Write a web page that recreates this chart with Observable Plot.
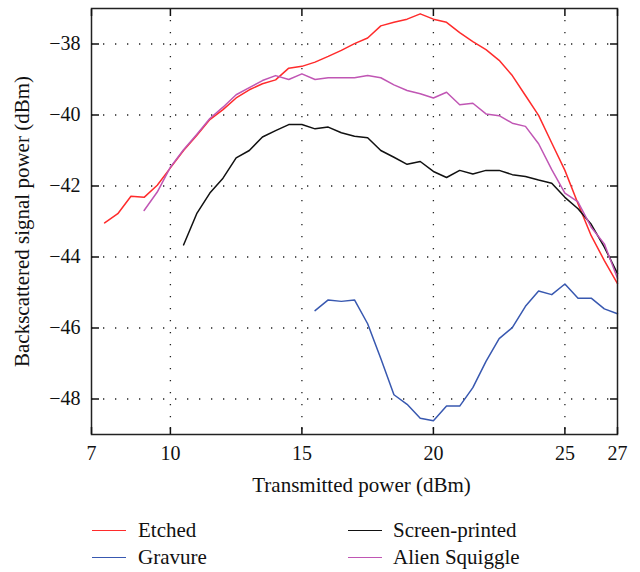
<!DOCTYPE html>
<html><head><meta charset="utf-8">
<script src="https://cdn.jsdelivr.net/npm/d3@7"></script>
<script src="https://cdn.jsdelivr.net/npm/@observablehq/plot@0.6"></script>
<style>
body{margin:0;background:#fff;font-family:"Liberation Serif",serif;}
#legend{position:relative;width:640px;height:72px;font-size:21px;color:#111;}
.item{position:absolute;display:flex;align-items:center;line-height:24px;height:24px;}
.sw{width:34px;height:0;border-top:1.6px solid;}
</style></head><body><div id="chart"></div><div id="legend"></div>
<script>
const seriesNames = ["Etched", "Gravure", "Screen-printed", "Alien Squiggle"];
const seriesColors = ["#ff2b2b", "#3858b0", "#111111", "#c056b4"];
const xTicks = [7, 10, 15, 20, 25, 27];
const yTicks = [-38, -40, -42, -44, -46, -48];

const etchedX = [7.5,8,8.5,9,9.5,10,10.5,11,11.5,12,12.5,13,13.5,14,14.5,15,15.5,16,16.5,17,17.5,18,18.5,19,19.5,20,20.5,21,21.5,22,22.5,23,23.5,24,24.5,25,25.5,26,26.5,27];
const etchedY = [-43.04,-42.78,-42.29,-42.32,-41.98,-41.49,-41.0,-40.58,-40.13,-39.85,-39.52,-39.29,-39.12,-39.01,-38.68,-38.63,-38.51,-38.35,-38.18,-37.99,-37.83,-37.49,-37.39,-37.30,-37.15,-37.30,-37.39,-37.68,-37.93,-38.16,-38.46,-38.89,-39.45,-40.01,-40.79,-41.56,-42.5,-43.4,-44.1,-44.75];

const screenX = [10.5,11,11.5,12,12.5,13,13.5,14,14.5,15,15.5,16,16.5,17,17.5,18,18.5,19,19.5,20,20.5,21,21.5,22,22.5,23,23.5,24,24.5,25,25.5,26,26.5,27];
const screenY = [-43.66,-42.78,-42.2,-41.78,-41.21,-41.0,-40.62,-40.44,-40.27,-40.27,-40.39,-40.34,-40.5,-40.6,-40.64,-41.0,-41.19,-41.39,-41.31,-41.59,-41.76,-41.56,-41.66,-41.56,-41.56,-41.68,-41.73,-41.83,-41.92,-42.32,-42.64,-43.08,-43.72,-44.47];

const gravureX = [15.5,16,16.5,17,17.5,18,18.5,19,19.5,20,20.5,21,21.5,22,22.5,23,23.5,24,24.5,25,25.5,26,26.5,27];
const gravureY = [-45.51,-45.21,-45.25,-45.21,-45.88,-46.86,-47.88,-48.15,-48.54,-48.61,-48.2,-48.2,-47.68,-46.94,-46.30,-45.99,-45.39,-44.96,-45.06,-44.76,-45.16,-45.16,-45.46,-45.6];

const alienX = [9,9.5,10,10.5,11,11.5,12,12.5,13,13.5,14,14.5,15,15.5,16,16.5,17,17.5,18,18.5,19,19.5,20,20.5,21,21.5,22,22.5,23,23.5,24,24.5,25,25.5,26,26.5,27];
const alienY = [-42.69,-42.17,-41.47,-40.98,-40.55,-40.1,-39.78,-39.43,-39.23,-39.03,-38.89,-39.0,-38.84,-39.0,-38.95,-38.95,-38.95,-38.89,-38.95,-39.15,-39.31,-39.40,-39.52,-39.36,-39.71,-39.67,-39.97,-40.02,-40.23,-40.32,-40.81,-41.54,-42.2,-42.45,-43.16,-43.63,-44.6];

const xLabel = "Transmitted power (dBm)";
const yLabel = "Backscattered signal power (dBm)";

const series = [
  {name: "Etched", xs: etchedX, ys: etchedY},
  {name: "Gravure", xs: gravureX, ys: gravureY},
  {name: "Screen-printed", xs: screenX, ys: screenY},
  {name: "Alien Squiggle", xs: alienX, ys: alienY}
];
const rows = series.flatMap(s => s.xs.map((x, i) => ({series: s.name, x, y: s.ys[i]})));

const blank = () => "";
const gridStyle = {stroke: "#222", strokeOpacity: 1, strokeWidth: 1.3, strokeDasharray: "1.3,10.7"};

const chart = Plot.plot({
  width: 640, height: 500,
  marginLeft: 91, marginRight: 23, marginTop: 8, marginBottom: 66,
  style: {fontFamily: "'Liberation Serif', serif", fontSize: "20px", color: "#111", background: "#fff"},
  x: {domain: [7, 27], label: null},
  y: {domain: [-49, -37], label: null},
  color: {domain: seriesNames, range: seriesColors},
  marks: [
    Plot.gridX(xTicks.slice(1, -1), gridStyle),
    Plot.gridY(yTicks, gridStyle),
    Plot.line(rows, {x: "x", y: "y", z: "series", stroke: "series", strokeWidth: 1.5}),
    Plot.frame({stroke: "#222", strokeWidth: 1.5}),
    Plot.axisX(xTicks, {anchor: "bottom", tickSize: -7, tickFormat: blank, label: null, strokeWidth: 1.5}),
    Plot.axisX(xTicks, {anchor: "top", tickSize: -7, tickFormat: blank, label: null, strokeWidth: 1.5}),
    Plot.axisY(yTicks, {anchor: "left", tickSize: -8, tickFormat: blank, label: null, strokeWidth: 1.5}),
    Plot.axisY(yTicks, {anchor: "right", tickSize: -8, tickFormat: blank, label: null, strokeWidth: 1.5}),
    Plot.axisX(xTicks, {anchor: "bottom", tickSize: 0, tickPadding: 11, label: null, fontSize: 20}),
    Plot.axisY(yTicks, {anchor: "left", tickSize: 0, tickPadding: 11, label: null, fontSize: 20}),
    Plot.text([xLabel], {text: d => d, frameAnchor: "bottom", dx: 7, dy: 51, lineAnchor: "middle", fontSize: 21}),
    Plot.text([yLabel], {text: d => d, frameAnchor: "left", textAnchor: "middle", rotate: -90, dx: -69, lineAnchor: "middle", fontSize: 21})
  ]
});
document.getElementById("chart").appendChild(chart);

const legendPos = [
  {left: 92, top: 18}, {left: 92, top: 45}, {left: 348, top: 18}, {left: 348, top: 45}
];
const legend = document.getElementById("legend");
seriesNames.forEach((name, i) => {
  const item = document.createElement("div");
  item.className = "item";
  item.style.left = legendPos[i].left + "px";
  item.style.top = legendPos[i].top + "px";
  const sw = document.createElement("span");
  sw.className = "sw";
  sw.style.borderTopColor = seriesColors[i];
  sw.style.marginRight = (i < 2 ? 12 : 11) + "px";
  const label = document.createElement("span");
  label.textContent = name;
  item.appendChild(sw);
  item.appendChild(label);
  legend.appendChild(item);
});
</script></body></html>
